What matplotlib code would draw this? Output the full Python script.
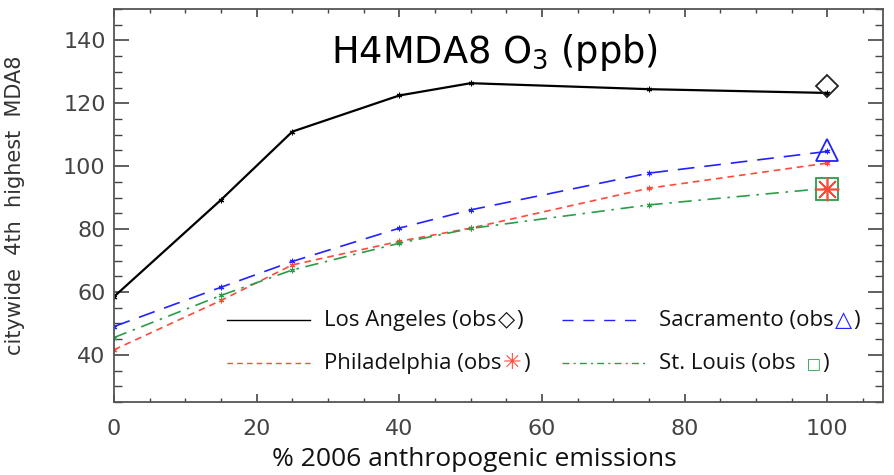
import matplotlib.pyplot as plt
from matplotlib.ticker import MultipleLocator
from matplotlib.lines import Line2D
from matplotlib.offsetbox import AnchoredOffsetbox, HPacker, VPacker, TextArea, DrawingArea

# emission scenarios (% of 2006 anthropogenic emissions)
pct = [0, 15, 25, 40, 50, 75, 100]

# modelled 4th highest MDA8 ozone (ppb)
los_angeles = [58.5, 89.3, 111.0, 122.5, 126.4, 124.5, 123.3]
sacramento = [49.0, 61.5, 69.7, 80.3, 86.1, 97.8, 104.7]
philadelphia = [41.6, 57.3, 68.6, 76.1, 80.3, 93.0, 101.0]
st_louis = [45.5, 58.9, 67.0, 75.5, 80.2, 87.7, 93.0]

# observed values at 100 %
obs_x = 100
obs_la = 125.5
obs_sac = 105.0
obs_phil = 92.7
obs_stl = 92.6

blue = '#2222ff'
red = '#ff4a3a'
green = '#2a9d48'
grey = '#444444'

fig = plt.figure(figsize=(8.94, 4.75), dpi=100)
ax = fig.add_axes([114 / 894, 1 - 402 / 475, 769 / 894, 393 / 475])

small = dict(marker=(6, 2, 0), markersize=4, markeredgewidth=0.8)
ax.plot(pct, los_angeles, color='black', lw=1.6, **small)
ax.plot(pct, sacramento, color=blue, lw=1.2, linestyle=(0, (10, 6)), **small)
ax.plot(pct, philadelphia, color=red, lw=1.2, linestyle=(0, (4, 3)), **small)
ax.plot(pct, st_louis, color=green, lw=1.2, linestyle=(0, (8, 4, 1.5, 4)), **small)

# observations
ax.plot(obs_x, obs_la, marker='D', ms=11, mfc='none', mec='#222222', mew=1.3)
ax.plot(obs_x, obs_sac, marker='^', ms=16, mfc='none', mec=blue, mew=1.3)
ax.plot(obs_x, obs_stl, marker='s', ms=16, mfc='none', mec=green, mew=1.3)
ax.plot(obs_x, obs_phil, marker=(8, 2, 0), ms=17, mfc='none', mec=red, mew=1.2)

ax.set_xlim(0, 107.8)
ax.set_ylim(25, 150)
ax.xaxis.set_major_locator(MultipleLocator(20))
ax.xaxis.set_minor_locator(MultipleLocator(5))
ax.yaxis.set_major_locator(MultipleLocator(20))
ax.yaxis.set_minor_locator(MultipleLocator(5))

for s in ax.spines.values():
    s.set_color('#555555')
    s.set_linewidth(1.3)
ax.tick_params(which='both', direction='in', top=True, right=True, color='#444444',
               labelcolor=grey, labelsize=16)
ax.tick_params(axis='y', which='major', length=11, width=1.2, pad=6)
ax.tick_params(axis='y', which='minor', length=6, width=1.0)
ax.tick_params(axis='x', which='major', length=6, width=1.2, pad=12)
ax.tick_params(axis='x', which='minor', length=3, width=1.0)

ax.set_ylabel('citywide  4th  highest  MDA8', fontsize=15, color='#333333')
ax.yaxis.set_label_coords(-0.116, 0.5)
ax.set_xlabel('% 2006 anthropogenic emissions', fontsize=19, family='Open Sans', color='#111111')
ax.xaxis.set_label_coords(0.468, -0.115)

ax.text(0.495, 0.89, 'H4MDA8 O$_3$ (ppb)', transform=ax.transAxes, fontsize=26.5,
        ha='center', va='center')

# legend with coloured obs symbols
def entry(color, ls, lw, name, sym, symcolor, symsize, tail=')'):
    da = DrawingArea(60, 10, 0, 0)
    da.add_artist(Line2D([0, 60], [5, 5], color=color, linestyle=ls, lw=lw))
    tp = dict(fontsize=16, family='Open Sans', color='#111111')
    parts = [TextArea(name + ' (obs', textprops=tp),
             TextArea(sym, textprops=dict(fontsize=symsize, family='DejaVu Sans', color=symcolor)),
             TextArea(tail, textprops=tp)]
    txt = HPacker(children=parts, sep=1, pad=0, align='baseline')
    return HPacker(children=[da, txt], sep=10, pad=0, align='center')

e_la = entry('black', '-', 1.0, 'Los Angeles', '\u25c7', '#111111', 16)
e_ph = entry(red, (0, (4, 3)), 1.0, 'Philadelphia', '\u2733', red, 16)
e_sa = entry(blue, (0, (8, 7)), 1.0, 'Sacramento', '\u25b3', blue, 16)
e_sl = entry(green, (0, (5, 3, 1.5, 3)), 1.0, 'St. Louis', '  \u25a1', green, 11)

col1 = VPacker(children=[e_la, e_ph], sep=16, pad=0, align='left')
col2 = VPacker(children=[e_sa, e_sl], sep=16, pad=0, align='left')
box = HPacker(children=[col1, col2], sep=23, pad=0, align='top')
anch = AnchoredOffsetbox(loc='center left', child=box, bbox_to_anchor=(0.147, 0.153),
                         bbox_transform=ax.transAxes, frameon=False, pad=0, borderpad=0)
ax.add_artist(anch)

plt.savefig('out.png', dpi=100)
